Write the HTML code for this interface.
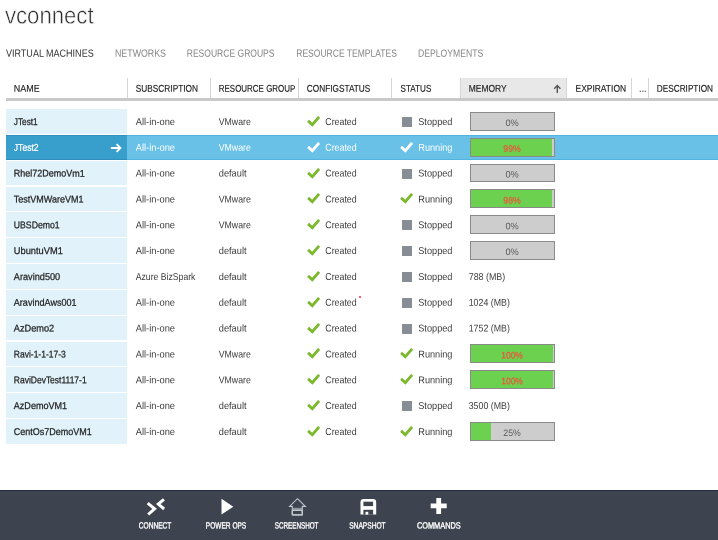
<!DOCTYPE html><html><head><meta charset="utf-8"><title>vconnect</title><style>
html,body{margin:0;padding:0;background:#fff;}
body{width:718px;height:540px;position:relative;overflow:hidden;font-family:"Liberation Sans", sans-serif;}
#p div,#p svg,#p span{position:absolute;}
#p span{left:0;top:0;white-space:nowrap;line-height:1;transform-origin:0 0;display:block;}
</style></head><body><div id="p">
<div style="left:460px;top:78px;width:106px;height:20.5px;background:#e8e8e8"></div>
<div style="left:127px;top:78px;width:1px;height:20.5px;background:#d6d6d6"></div>
<div style="left:210px;top:78px;width:1px;height:20.5px;background:#d6d6d6"></div>
<div style="left:298px;top:78px;width:1px;height:20.5px;background:#d6d6d6"></div>
<div style="left:391px;top:78px;width:1px;height:20.5px;background:#d6d6d6"></div>
<div style="left:460px;top:78px;width:1px;height:20.5px;background:#d6d6d6"></div>
<div style="left:566px;top:78px;width:1px;height:20.5px;background:#d6d6d6"></div>
<div style="left:630.5px;top:78px;width:1px;height:20.5px;background:#d6d6d6"></div>
<div style="left:648px;top:78px;width:1px;height:20.5px;background:#d6d6d6"></div>
<div style="left:6px;top:98.3px;width:712px;height:2.5px;background:#c9c9c9"></div>
<div style="left:6.00px;top:109.00px;width:121.00px;height:24.75px;background:#e1f2fa;"></div>
<div style="left:402.20px;top:117.10px;width:9.90px;height:9.90px;background:#878c95;"></div>
<div style="left:469.70px;top:111.90px;width:85.10px;height:18.90px;background:#cdcdcd;border:1px solid #8a8a8a;box-sizing:border-box;"></div>
<div style="left:6.00px;top:134.83px;width:121.00px;height:24.75px;background:#389ecb;"></div>
<div style="left:127.00px;top:134.83px;width:591.00px;height:24.75px;background:#69c1e8;"></div>
<div style="left:6.00px;top:134.83px;width:121.00px;height:1.00px;background:#2f8fbd;"></div>
<div style="left:6.00px;top:158.58px;width:121.00px;height:1.00px;background:#2f8fbd;"></div>
<div style="left:127.00px;top:134.83px;width:591.00px;height:1.00px;background:#54b2df;"></div>
<div style="left:127.00px;top:158.58px;width:591.00px;height:1.00px;background:#54b2df;"></div>
<div style="left:469.70px;top:137.73px;width:85.10px;height:18.90px;background:#cdcdcd;border:1px solid #8a8a8a;box-sizing:border-box;"></div>
<div style="left:470.70px;top:138.73px;width:81.67px;height:16.90px;background:#6bd14f;"></div>
<div style="left:6.00px;top:160.67px;width:121.00px;height:24.75px;background:#e1f2fa;"></div>
<div style="left:402.20px;top:168.77px;width:9.90px;height:9.90px;background:#878c95;"></div>
<div style="left:469.70px;top:163.57px;width:85.10px;height:18.90px;background:#cdcdcd;border:1px solid #8a8a8a;box-sizing:border-box;"></div>
<div style="left:6.00px;top:186.50px;width:121.00px;height:24.75px;background:#e1f2fa;"></div>
<div style="left:469.70px;top:189.40px;width:85.10px;height:18.90px;background:#cdcdcd;border:1px solid #8a8a8a;box-sizing:border-box;"></div>
<div style="left:470.70px;top:190.40px;width:80.84px;height:16.90px;background:#6bd14f;"></div>
<div style="left:6.00px;top:212.33px;width:121.00px;height:24.75px;background:#e1f2fa;"></div>
<div style="left:402.20px;top:220.43px;width:9.90px;height:9.90px;background:#878c95;"></div>
<div style="left:469.70px;top:215.23px;width:85.10px;height:18.90px;background:#cdcdcd;border:1px solid #8a8a8a;box-sizing:border-box;"></div>
<div style="left:6.00px;top:238.17px;width:121.00px;height:24.75px;background:#e1f2fa;"></div>
<div style="left:402.20px;top:246.27px;width:9.90px;height:9.90px;background:#878c95;"></div>
<div style="left:469.70px;top:241.07px;width:85.10px;height:18.90px;background:#cdcdcd;border:1px solid #8a8a8a;box-sizing:border-box;"></div>
<div style="left:6.00px;top:264.00px;width:121.00px;height:24.75px;background:#e1f2fa;"></div>
<div style="left:402.20px;top:272.10px;width:9.90px;height:9.90px;background:#878c95;"></div>
<div style="left:6.00px;top:289.83px;width:121.00px;height:24.75px;background:#e1f2fa;"></div>
<div style="left:402.20px;top:297.93px;width:9.90px;height:9.90px;background:#878c95;"></div>
<div style="left:6.00px;top:315.67px;width:121.00px;height:24.75px;background:#e1f2fa;"></div>
<div style="left:402.20px;top:323.77px;width:9.90px;height:9.90px;background:#878c95;"></div>
<div style="left:6.00px;top:341.50px;width:121.00px;height:24.75px;background:#e1f2fa;"></div>
<div style="left:469.70px;top:344.40px;width:85.10px;height:18.90px;background:#cdcdcd;border:1px solid #8a8a8a;box-sizing:border-box;"></div>
<div style="left:470.70px;top:345.40px;width:82.08px;height:16.90px;background:#6bd14f;"></div>
<div style="left:6.00px;top:367.33px;width:121.00px;height:24.75px;background:#e1f2fa;"></div>
<div style="left:469.70px;top:370.23px;width:85.10px;height:18.90px;background:#cdcdcd;border:1px solid #8a8a8a;box-sizing:border-box;"></div>
<div style="left:470.70px;top:371.23px;width:82.08px;height:16.90px;background:#6bd14f;"></div>
<div style="left:6.00px;top:393.17px;width:121.00px;height:24.75px;background:#e1f2fa;"></div>
<div style="left:402.20px;top:401.27px;width:9.90px;height:9.90px;background:#878c95;"></div>
<div style="left:6.00px;top:419.00px;width:121.00px;height:24.75px;background:#e1f2fa;"></div>
<div style="left:469.70px;top:421.90px;width:85.10px;height:18.90px;background:#cdcdcd;border:1px solid #8a8a8a;box-sizing:border-box;"></div>
<div style="left:470.70px;top:422.90px;width:20.17px;height:16.90px;background:#6bd14f;"></div>
<svg style="left:307.10px;top:115.90px" width="14" height="12" viewBox="0 0 14 12"><path d="M1.1 4.9 L5.3 8.7 L12.1 0.9" fill="none" stroke="#7ab92b" stroke-width="2.8"/></svg>
<svg style="left:307.10px;top:141.73px" width="14" height="12" viewBox="0 0 14 12"><path d="M1.1 4.9 L5.3 8.7 L12.1 0.9" fill="none" stroke="#fff" stroke-width="2.8"/></svg>
<svg style="left:400.40px;top:141.73px" width="14" height="12" viewBox="0 0 14 12"><path d="M1.1 4.9 L5.3 8.7 L12.1 0.9" fill="none" stroke="#fff" stroke-width="2.8"/></svg>
<svg style="left:307.10px;top:167.57px" width="14" height="12" viewBox="0 0 14 12"><path d="M1.1 4.9 L5.3 8.7 L12.1 0.9" fill="none" stroke="#7ab92b" stroke-width="2.8"/></svg>
<svg style="left:307.10px;top:193.40px" width="14" height="12" viewBox="0 0 14 12"><path d="M1.1 4.9 L5.3 8.7 L12.1 0.9" fill="none" stroke="#7ab92b" stroke-width="2.8"/></svg>
<svg style="left:400.40px;top:193.40px" width="14" height="12" viewBox="0 0 14 12"><path d="M1.1 4.9 L5.3 8.7 L12.1 0.9" fill="none" stroke="#7ab92b" stroke-width="2.8"/></svg>
<svg style="left:307.10px;top:219.23px" width="14" height="12" viewBox="0 0 14 12"><path d="M1.1 4.9 L5.3 8.7 L12.1 0.9" fill="none" stroke="#7ab92b" stroke-width="2.8"/></svg>
<svg style="left:307.10px;top:245.07px" width="14" height="12" viewBox="0 0 14 12"><path d="M1.1 4.9 L5.3 8.7 L12.1 0.9" fill="none" stroke="#7ab92b" stroke-width="2.8"/></svg>
<svg style="left:307.10px;top:270.90px" width="14" height="12" viewBox="0 0 14 12"><path d="M1.1 4.9 L5.3 8.7 L12.1 0.9" fill="none" stroke="#7ab92b" stroke-width="2.8"/></svg>
<svg style="left:307.10px;top:296.73px" width="14" height="12" viewBox="0 0 14 12"><path d="M1.1 4.9 L5.3 8.7 L12.1 0.9" fill="none" stroke="#7ab92b" stroke-width="2.8"/></svg>
<svg style="left:307.10px;top:322.57px" width="14" height="12" viewBox="0 0 14 12"><path d="M1.1 4.9 L5.3 8.7 L12.1 0.9" fill="none" stroke="#7ab92b" stroke-width="2.8"/></svg>
<svg style="left:307.10px;top:348.40px" width="14" height="12" viewBox="0 0 14 12"><path d="M1.1 4.9 L5.3 8.7 L12.1 0.9" fill="none" stroke="#7ab92b" stroke-width="2.8"/></svg>
<svg style="left:400.40px;top:348.40px" width="14" height="12" viewBox="0 0 14 12"><path d="M1.1 4.9 L5.3 8.7 L12.1 0.9" fill="none" stroke="#7ab92b" stroke-width="2.8"/></svg>
<svg style="left:307.10px;top:374.23px" width="14" height="12" viewBox="0 0 14 12"><path d="M1.1 4.9 L5.3 8.7 L12.1 0.9" fill="none" stroke="#7ab92b" stroke-width="2.8"/></svg>
<svg style="left:400.40px;top:374.23px" width="14" height="12" viewBox="0 0 14 12"><path d="M1.1 4.9 L5.3 8.7 L12.1 0.9" fill="none" stroke="#7ab92b" stroke-width="2.8"/></svg>
<svg style="left:307.10px;top:400.07px" width="14" height="12" viewBox="0 0 14 12"><path d="M1.1 4.9 L5.3 8.7 L12.1 0.9" fill="none" stroke="#7ab92b" stroke-width="2.8"/></svg>
<svg style="left:307.10px;top:425.90px" width="14" height="12" viewBox="0 0 14 12"><path d="M1.1 4.9 L5.3 8.7 L12.1 0.9" fill="none" stroke="#7ab92b" stroke-width="2.8"/></svg>
<svg style="left:400.40px;top:425.90px" width="14" height="12" viewBox="0 0 14 12"><path d="M1.1 4.9 L5.3 8.7 L12.1 0.9" fill="none" stroke="#7ab92b" stroke-width="2.8"/></svg>
<svg style="left:553px;top:84px" width="9" height="10" viewBox="0 0 9 10"><path d="M4.3 1.6 V9 M1.2 4.7 L4.3 1.6 L7.4 4.7" fill="none" stroke="#555" stroke-width="1.4"/></svg>
<svg style="left:110px;top:142.73px" width="12" height="10" viewBox="0 0 12 10"><path d="M0.8 5 H10.4 M6.6 1.2 L10.4 5 L6.6 8.8" fill="none" stroke="#fff" stroke-width="1.9"/></svg>
<div style="left:0;top:489.8px;width:718px;height:51px;background:#3d434f"></div>
<div style="left:0;top:489.8px;width:718px;height:1px;background:#232c38"></div>
<div style="left:359.3px;top:296.1px;width:2px;height:2px;border-radius:50%;background:#ff2a3a"></div>
<svg style="left:0;top:489px" width="718" height="51" viewBox="0 489 718 51">
<g fill="none" stroke="#fff" stroke-width="3" stroke-linejoin="miter"><path d="M147.7 503.2 L154.6 508.8 L148.2 514.5"/><path d="M163.9 499.3 L158.3 504.1 L164.1 509"/></g>
<path d="M221.5 498.7 L233.3 506.7 L221.5 514.6 Z" fill="#fff"/>
<rect x="292.3" y="507.8" width="10" height="2.6" fill="#8d929b"/>
<g fill="none" stroke="#c3c7ce" stroke-width="1.1"><path d="M297.4 498.7 L305.4 506.4 H302.3 V514.9 H292.3 V506.4 H289.6 Z"/><rect x="292.3" y="510.4" width="10" height="4.5" rx="1" stroke-width="1.4"/></g>
<path d="M363.6 499 H373 Q376.2 499 376.2 502.2 V514.6 H360.5 V502.2 Q360.5 499 363.6 499 Z" fill="#fff"/>
<rect x="363.4" y="501.7" width="9.7" height="4.4" fill="#3d434f"/><rect x="363.4" y="509.8" width="9.7" height="4.8" fill="#3d434f"/><rect x="365.5" y="511.8" width="2.8" height="2.8" fill="#fff"/>
<path d="M436.3 497.9 H441.1 V503.5 H446.7 V508.3 H441.1 V513.9 H436.3 V508.3 H430.7 V503.5 H436.3 Z" fill="#fff"/>
</svg>

<span style="font-size:24px;color:#2e2e2e;transform:translate(5.00px,3.40px) scaleX(0.9223) rotate(0.05deg);-webkit-text-stroke:0.5px #fff;">vconnect</span>
<span style="font-size:10.5px;color:#333;transform:translate(6.00px,47.70px) scaleX(0.8586) rotate(0.05deg);">VIRTUAL MACHINES</span>
<span style="font-size:10.5px;color:#848484;transform:translate(115.00px,47.70px) scaleX(0.8407) rotate(0.05deg);">NETWORKS</span>
<span style="font-size:10.5px;color:#848484;transform:translate(186.75px,47.70px) scaleX(0.8130) rotate(0.05deg);">RESOURCE GROUPS</span>
<span style="font-size:10.5px;color:#848484;transform:translate(296.25px,47.70px) scaleX(0.8120) rotate(0.05deg);">RESOURCE TEMPLATES</span>
<span style="font-size:10.5px;color:#848484;transform:translate(418.00px,47.70px) scaleX(0.8223) rotate(0.05deg);">DEPLOYMENTS</span>
<span style="font-size:9.8px;color:#1a1a1a;transform:translate(13.80px,83.80px) scaleX(0.9141) rotate(0.05deg);-webkit-text-stroke:0.15px #1a1a1a;">NAME</span>
<span style="font-size:9.8px;color:#1a1a1a;transform:translate(135.75px,83.80px) scaleX(0.8480) rotate(0.05deg);-webkit-text-stroke:0.15px #1a1a1a;">SUBSCRIPTION</span>
<span style="font-size:9.8px;color:#1a1a1a;transform:translate(218.75px,83.80px) scaleX(0.8136) rotate(0.05deg);-webkit-text-stroke:0.15px #1a1a1a;">RESOURCE GROUP</span>
<span style="font-size:9.8px;color:#1a1a1a;transform:translate(306.75px,83.80px) scaleX(0.8448) rotate(0.05deg);-webkit-text-stroke:0.15px #1a1a1a;">CONFIGSTATUS</span>
<span style="font-size:9.8px;color:#1a1a1a;transform:translate(400.50px,83.80px) scaleX(0.8298) rotate(0.05deg);-webkit-text-stroke:0.15px #1a1a1a;">STATUS</span>
<span style="font-size:9.8px;color:#1a1a1a;transform:translate(468.75px,83.80px) scaleX(0.8620) rotate(0.05deg);-webkit-text-stroke:0.15px #1a1a1a;">MEMORY</span>
<span style="font-size:9.8px;color:#1a1a1a;transform:translate(575.50px,83.80px) scaleX(0.8627) rotate(0.05deg);-webkit-text-stroke:0.15px #1a1a1a;">EXPIRATION</span>
<span style="font-size:9.8px;color:#1a1a1a;transform:translate(639.00px,83.80px) scaleX(0.9404) rotate(0.05deg);-webkit-text-stroke:0.15px #1a1a1a;">...</span>
<span style="font-size:9.8px;color:#1a1a1a;transform:translate(656.75px,83.80px) scaleX(0.8411) rotate(0.05deg);-webkit-text-stroke:0.15px #1a1a1a;">DESCRIPTION</span>
<span style="font-size:9.8px;color:#1f1f1f;transform:translate(13.80px,116.90px) scaleX(0.8433) rotate(0.05deg);-webkit-text-stroke:0.25px #1f1f1f;">JTest1</span>
<span style="font-size:9.9px;color:#3c3c3c;transform:translate(135.75px,116.90px) scaleX(0.9415) rotate(0.05deg);">All-in-one</span>
<span style="font-size:9.9px;color:#3c3c3c;transform:translate(218.75px,116.90px) scaleX(0.8850) rotate(0.05deg);">VMware</span>
<span style="font-size:9.9px;color:#3c3c3c;transform:translate(325.25px,116.90px) scaleX(0.8949) rotate(0.05deg);">Created</span>
<span style="font-size:9.9px;color:#3c3c3c;transform:translate(418.25px,116.90px) scaleX(0.9298) rotate(0.05deg);">Stopped</span>
<span style="font-size:9.4px;color:#5a5a5a;transform:translate(505.40px,117.90px) scaleX(0.9838) rotate(0.05deg);">0%</span>
<span style="font-size:9.8px;color:#fff;transform:translate(13.80px,142.73px) scaleX(0.8774) rotate(0.05deg);-webkit-text-stroke:0.25px #fff;">JTest2</span>
<span style="font-size:9.9px;color:#fff;transform:translate(135.75px,142.73px) scaleX(0.9415) rotate(0.05deg);">All-in-one</span>
<span style="font-size:9.9px;color:#fff;transform:translate(218.75px,142.73px) scaleX(0.8850) rotate(0.05deg);">VMware</span>
<span style="font-size:9.9px;color:#fff;transform:translate(325.25px,142.73px) scaleX(0.8949) rotate(0.05deg);">Created</span>
<span style="font-size:9.9px;color:#fff;transform:translate(418.25px,142.73px) scaleX(0.9299) rotate(0.05deg);">Running</span>
<span style="font-size:9.4px;color:#f2503e;transform:translate(503.35px,143.73px) scaleX(0.9279) rotate(0.05deg);-webkit-text-stroke:0.2px #f2503e;">99%</span>
<span style="font-size:9.8px;color:#1f1f1f;transform:translate(13.80px,168.57px) scaleX(0.9164) rotate(0.05deg);-webkit-text-stroke:0.25px #1f1f1f;">Rhel72DemoVm1</span>
<span style="font-size:9.9px;color:#3c3c3c;transform:translate(135.75px,168.57px) scaleX(0.9415) rotate(0.05deg);">All-in-one</span>
<span style="font-size:9.9px;color:#3c3c3c;transform:translate(218.75px,168.57px) scaleX(0.9363) rotate(0.05deg);">default</span>
<span style="font-size:9.9px;color:#3c3c3c;transform:translate(325.25px,168.57px) scaleX(0.8949) rotate(0.05deg);">Created</span>
<span style="font-size:9.9px;color:#3c3c3c;transform:translate(418.25px,168.57px) scaleX(0.9298) rotate(0.05deg);">Stopped</span>
<span style="font-size:9.4px;color:#5a5a5a;transform:translate(505.40px,169.57px) scaleX(0.9838) rotate(0.05deg);">0%</span>
<span style="font-size:9.8px;color:#1f1f1f;transform:translate(13.80px,194.40px) scaleX(0.9178) rotate(0.05deg);-webkit-text-stroke:0.25px #1f1f1f;">TestVMWareVM1</span>
<span style="font-size:9.9px;color:#3c3c3c;transform:translate(135.75px,194.40px) scaleX(0.9415) rotate(0.05deg);">All-in-one</span>
<span style="font-size:9.9px;color:#3c3c3c;transform:translate(218.75px,194.40px) scaleX(0.8850) rotate(0.05deg);">VMware</span>
<span style="font-size:9.9px;color:#3c3c3c;transform:translate(325.25px,194.40px) scaleX(0.8949) rotate(0.05deg);">Created</span>
<span style="font-size:9.9px;color:#3c3c3c;transform:translate(418.25px,194.40px) scaleX(0.9299) rotate(0.05deg);">Running</span>
<span style="font-size:9.4px;color:#f2503e;transform:translate(503.35px,195.40px) scaleX(0.9279) rotate(0.05deg);-webkit-text-stroke:0.2px #f2503e;">98%</span>
<span style="font-size:9.8px;color:#1f1f1f;transform:translate(13.80px,220.23px) scaleX(0.8864) rotate(0.05deg);-webkit-text-stroke:0.25px #1f1f1f;">UBSDemo1</span>
<span style="font-size:9.9px;color:#3c3c3c;transform:translate(135.75px,220.23px) scaleX(0.9415) rotate(0.05deg);">All-in-one</span>
<span style="font-size:9.9px;color:#3c3c3c;transform:translate(218.75px,220.23px) scaleX(0.8850) rotate(0.05deg);">VMware</span>
<span style="font-size:9.9px;color:#3c3c3c;transform:translate(325.25px,220.23px) scaleX(0.8949) rotate(0.05deg);">Created</span>
<span style="font-size:9.9px;color:#3c3c3c;transform:translate(418.25px,220.23px) scaleX(0.9298) rotate(0.05deg);">Stopped</span>
<span style="font-size:9.4px;color:#5a5a5a;transform:translate(505.40px,221.23px) scaleX(0.9838) rotate(0.05deg);">0%</span>
<span style="font-size:9.8px;color:#1f1f1f;transform:translate(13.80px,246.07px) scaleX(0.9496) rotate(0.05deg);-webkit-text-stroke:0.25px #1f1f1f;">UbuntuVM1</span>
<span style="font-size:9.9px;color:#3c3c3c;transform:translate(135.75px,246.07px) scaleX(0.9415) rotate(0.05deg);">All-in-one</span>
<span style="font-size:9.9px;color:#3c3c3c;transform:translate(218.75px,246.07px) scaleX(0.9363) rotate(0.05deg);">default</span>
<span style="font-size:9.9px;color:#3c3c3c;transform:translate(325.25px,246.07px) scaleX(0.8949) rotate(0.05deg);">Created</span>
<span style="font-size:9.9px;color:#3c3c3c;transform:translate(418.25px,246.07px) scaleX(0.9298) rotate(0.05deg);">Stopped</span>
<span style="font-size:9.4px;color:#5a5a5a;transform:translate(505.40px,247.07px) scaleX(0.9838) rotate(0.05deg);">0%</span>
<span style="font-size:9.8px;color:#1f1f1f;transform:translate(13.80px,271.90px) scaleX(0.9369) rotate(0.05deg);-webkit-text-stroke:0.25px #1f1f1f;">Aravind500</span>
<span style="font-size:9.9px;color:#3c3c3c;transform:translate(135.75px,271.90px) scaleX(0.8772) rotate(0.05deg);">Azure BizSpark</span>
<span style="font-size:9.9px;color:#3c3c3c;transform:translate(218.75px,271.90px) scaleX(0.9363) rotate(0.05deg);">default</span>
<span style="font-size:9.9px;color:#3c3c3c;transform:translate(325.25px,271.90px) scaleX(0.8949) rotate(0.05deg);">Created</span>
<span style="font-size:9.9px;color:#3c3c3c;transform:translate(418.25px,271.90px) scaleX(0.9298) rotate(0.05deg);">Stopped</span>
<span style="font-size:9.9px;color:#3c3c3c;transform:translate(468.70px,271.90px) scaleX(0.9003) rotate(0.05deg);">788 (MB)</span>
<span style="font-size:9.8px;color:#1f1f1f;transform:translate(13.80px,297.73px) scaleX(0.9259) rotate(0.05deg);-webkit-text-stroke:0.25px #1f1f1f;">AravindAws001</span>
<span style="font-size:9.9px;color:#3c3c3c;transform:translate(135.75px,297.73px) scaleX(0.9415) rotate(0.05deg);">All-in-one</span>
<span style="font-size:9.9px;color:#3c3c3c;transform:translate(218.75px,297.73px) scaleX(0.9363) rotate(0.05deg);">default</span>
<span style="font-size:9.9px;color:#3c3c3c;transform:translate(325.25px,297.73px) scaleX(0.8949) rotate(0.05deg);">Created</span>
<span style="font-size:9.9px;color:#3c3c3c;transform:translate(418.25px,297.73px) scaleX(0.9298) rotate(0.05deg);">Stopped</span>
<span style="font-size:9.9px;color:#3c3c3c;transform:translate(468.70px,297.73px) scaleX(0.8928) rotate(0.05deg);">1024 (MB)</span>
<span style="font-size:9.8px;color:#1f1f1f;transform:translate(13.80px,323.57px) scaleX(0.9385) rotate(0.05deg);-webkit-text-stroke:0.25px #1f1f1f;">AzDemo2</span>
<span style="font-size:9.9px;color:#3c3c3c;transform:translate(135.75px,323.57px) scaleX(0.9415) rotate(0.05deg);">All-in-one</span>
<span style="font-size:9.9px;color:#3c3c3c;transform:translate(218.75px,323.57px) scaleX(0.9363) rotate(0.05deg);">default</span>
<span style="font-size:9.9px;color:#3c3c3c;transform:translate(325.25px,323.57px) scaleX(0.8949) rotate(0.05deg);">Created</span>
<span style="font-size:9.9px;color:#3c3c3c;transform:translate(418.25px,323.57px) scaleX(0.9298) rotate(0.05deg);">Stopped</span>
<span style="font-size:9.9px;color:#3c3c3c;transform:translate(468.70px,323.57px) scaleX(0.8928) rotate(0.05deg);">1752 (MB)</span>
<span style="font-size:9.8px;color:#1f1f1f;transform:translate(13.80px,349.40px) scaleX(0.8678) rotate(0.05deg);-webkit-text-stroke:0.25px #1f1f1f;">Ravi-1-1-17-3</span>
<span style="font-size:9.9px;color:#3c3c3c;transform:translate(135.75px,349.40px) scaleX(0.9415) rotate(0.05deg);">All-in-one</span>
<span style="font-size:9.9px;color:#3c3c3c;transform:translate(218.75px,349.40px) scaleX(0.8850) rotate(0.05deg);">VMware</span>
<span style="font-size:9.9px;color:#3c3c3c;transform:translate(325.25px,349.40px) scaleX(0.8949) rotate(0.05deg);">Created</span>
<span style="font-size:9.9px;color:#3c3c3c;transform:translate(418.25px,349.40px) scaleX(0.9299) rotate(0.05deg);">Running</span>
<span style="font-size:9.4px;color:#f2503e;transform:translate(501.25px,350.40px) scaleX(0.9009) rotate(0.05deg);-webkit-text-stroke:0.2px #f2503e;">100%</span>
<span style="font-size:9.8px;color:#1f1f1f;transform:translate(13.80px,375.23px) scaleX(0.8667) rotate(0.05deg);-webkit-text-stroke:0.25px #1f1f1f;">RaviDevTest1117-1</span>
<span style="font-size:9.9px;color:#3c3c3c;transform:translate(135.75px,375.23px) scaleX(0.9415) rotate(0.05deg);">All-in-one</span>
<span style="font-size:9.9px;color:#3c3c3c;transform:translate(218.75px,375.23px) scaleX(0.8850) rotate(0.05deg);">VMware</span>
<span style="font-size:9.9px;color:#3c3c3c;transform:translate(325.25px,375.23px) scaleX(0.8949) rotate(0.05deg);">Created</span>
<span style="font-size:9.9px;color:#3c3c3c;transform:translate(418.25px,375.23px) scaleX(0.9299) rotate(0.05deg);">Running</span>
<span style="font-size:9.4px;color:#f2503e;transform:translate(501.25px,376.23px) scaleX(0.9009) rotate(0.05deg);-webkit-text-stroke:0.2px #f2503e;">100%</span>
<span style="font-size:9.8px;color:#1f1f1f;transform:translate(13.80px,401.07px) scaleX(0.9247) rotate(0.05deg);-webkit-text-stroke:0.25px #1f1f1f;">AzDemoVM1</span>
<span style="font-size:9.9px;color:#3c3c3c;transform:translate(135.75px,401.07px) scaleX(0.9415) rotate(0.05deg);">All-in-one</span>
<span style="font-size:9.9px;color:#3c3c3c;transform:translate(218.75px,401.07px) scaleX(0.9363) rotate(0.05deg);">default</span>
<span style="font-size:9.9px;color:#3c3c3c;transform:translate(325.25px,401.07px) scaleX(0.8949) rotate(0.05deg);">Created</span>
<span style="font-size:9.9px;color:#3c3c3c;transform:translate(418.25px,401.07px) scaleX(0.9298) rotate(0.05deg);">Stopped</span>
<span style="font-size:9.9px;color:#3c3c3c;transform:translate(468.70px,401.07px) scaleX(0.8928) rotate(0.05deg);">3500 (MB)</span>
<span style="font-size:9.8px;color:#1f1f1f;transform:translate(13.80px,426.90px) scaleX(0.9167) rotate(0.05deg);-webkit-text-stroke:0.25px #1f1f1f;">CentOs7DemoVM1</span>
<span style="font-size:9.9px;color:#3c3c3c;transform:translate(135.75px,426.90px) scaleX(0.9415) rotate(0.05deg);">All-in-one</span>
<span style="font-size:9.9px;color:#3c3c3c;transform:translate(218.75px,426.90px) scaleX(0.9363) rotate(0.05deg);">default</span>
<span style="font-size:9.9px;color:#3c3c3c;transform:translate(325.25px,426.90px) scaleX(0.8949) rotate(0.05deg);">Created</span>
<span style="font-size:9.9px;color:#3c3c3c;transform:translate(418.25px,426.90px) scaleX(0.9299) rotate(0.05deg);">Running</span>
<span style="font-size:9.4px;color:#5a5a5a;transform:translate(503.35px,427.90px) scaleX(0.9279) rotate(0.05deg);">25%</span>
<span style="font-size:9.0px;color:#fff;transform:translate(138.75px,521.50px) scaleX(0.7333) rotate(0.05deg);-webkit-text-stroke:0.35px #fff;">CONNECT</span>
<span style="font-size:9.0px;color:#fff;transform:translate(205.75px,521.50px) scaleX(0.7297) rotate(0.05deg);-webkit-text-stroke:0.35px #fff;">POWER OPS</span>
<span style="font-size:9.0px;color:#fff;transform:translate(274.70px,521.50px) scaleX(0.6999) rotate(0.05deg);-webkit-text-stroke:0.35px #fff;">SCREENSHOT</span>
<span style="font-size:9.0px;color:#fff;transform:translate(349.20px,521.50px) scaleX(0.7358) rotate(0.05deg);-webkit-text-stroke:0.35px #fff;">SNAPSHOT</span>
<span style="font-size:9.0px;color:#fff;transform:translate(416.90px,521.50px) scaleX(0.8188) rotate(0.05deg);-webkit-text-stroke:0.35px #fff;">COMMANDS</span>
</div></body></html>
